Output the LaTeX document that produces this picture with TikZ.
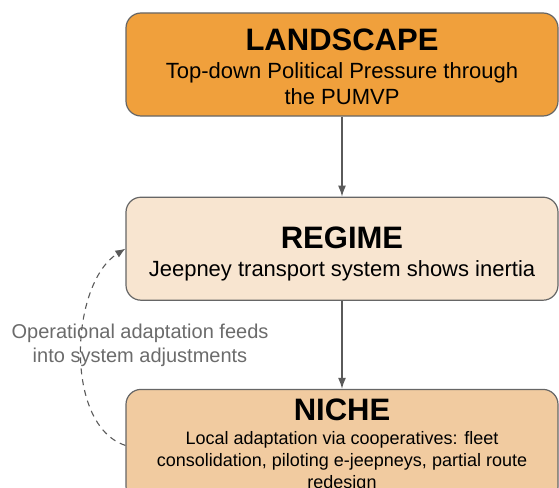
\documentclass[tikz,border=0pt]{standalone}
\usepackage{fontspec}
\setmainfont{Liberation Sans}
\usepackage{tikz}
\usetikzlibrary{arrows.meta,positioning}

\definecolor{landfill}{HTML}{F0A03C}
\definecolor{regfill}{HTML}{F8E5D0}
\definecolor{nichefill}{HTML}{F1CBA0}
\definecolor{edgegray}{HTML}{666666}
\definecolor{arrowgray}{HTML}{5A5A5A}
\definecolor{notegray}{HTML}{6B6B6B}

\newcommand{\headfont}{\fontsize{31}{36}\selectfont\bfseries}

\begin{document}
\begin{tikzpicture}[
            x=1pt,y=-1pt,
            level/.style={draw=edgegray,line width=1.2pt,rounded corners=15pt,
              minimum width=432pt,align=center,text=black},
            mainflow/.style={draw=arrowgray,line width=1.3pt,-{Latex[length=11pt,width=8pt]}},
            feedback/.style={draw=arrowgray,line width=1.1pt,dash pattern=on 6pt off 5pt,
              -{Latex[length=10pt,width=8pt]}},
            note/.style={align=center,text=notegray,font=\fontsize{20}{24}\selectfont}
          ]
          \useasboundingbox (0,0) rectangle (559,487);
          \clip (0,0) rectangle (559,487);

          \node[level,fill=landfill,minimum height=103pt,font=\fontsize{22}{26}\selectfont]
            (landscape) at (342,64.5)
            {{\headfont\rule{0pt}{26pt}LANDSCAPE}\\[2pt]Top-down Political Pressure through\\the PUMVP};
          \node[level,fill=regfill,minimum height=103pt,font=\fontsize{22}{26}\selectfont,
            below=80pt of landscape] (regime)
            {{\headfont\rule{0pt}{32pt}REGIME}\\[2pt]Jeepney transport system shows inertia};
          \node[level,fill=nichefill,minimum height=112pt,font=\fontsize{18}{22}\selectfont,
            below=88pt of regime] (niche)
            {{\headfont NICHE}\\[2pt]Local adaptation via cooperatives: fleet\\
             consolidation, piloting e-jeepneys, partial route\\redesign};

          %feedback label
          \node[note] (feedtext) at (140,345)
            {Operational adaptation feeds\\into system adjustments};

          \path
          (landscape) edge[mainflow] (regime)
          (regime) edge[mainflow] (niche)
          ;
          \draw[feedback] (niche.west) to[out=162,in=212,looseness=0.85] (regime.west);

      \end{tikzpicture}
\end{document}
